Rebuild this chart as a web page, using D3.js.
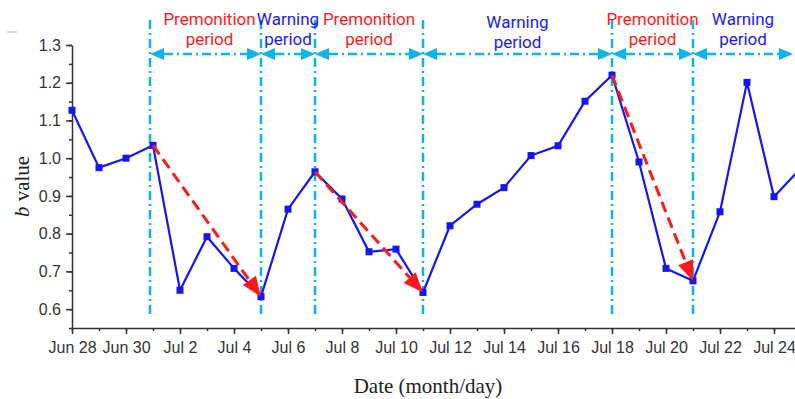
<!DOCTYPE html>
<html>
<head>
<meta charset="utf-8">
<script src="https://cdn.jsdelivr.net/npm/d3@7"></script>
<style>
  body { margin: 0; background: #fff; }
  svg { display: block; }
  .axis path, .axis line { stroke: #333; stroke-width: 1.5; }
  .axis text { font-family: "Liberation Sans", Arial, sans-serif; font-size: 16px; fill: #333; }
</style>
</head>
<body>
<div id="chart"></div>
<script>
// data
const dates = ["06-28","06-29","06-30","07-01","07-02","07-03","07-04","07-05","07-06","07-07",
  "07-08","07-09","07-10","07-11","07-12","07-13","07-14","07-15","07-16","07-17",
  "07-18","07-19","07-20","07-21","07-22","07-23","07-24","07-25"];
const bValues = [1.127, 0.975, 1.0, 1.034, 0.650, 0.792, 0.708, 0.633, 0.865, 0.964,
  0.892, 0.752, 0.759, 0.644, 0.821, 0.878, 0.922, 1.007, 1.033, 1.151,
  1.220, 0.990, 0.708, 0.675, 0.858, 1.201, 0.898, 0.974];
const yTicks = [0.6, 0.7, 0.8, 0.9, 1.0, 1.1, 1.2, 1.3];
const xTickDates = ["06-28","06-30","07-02","07-04","07-06","07-08","07-10","07-12",
  "07-14","07-16","07-18","07-20","07-22","07-24"];
const boundaries = ["07-01","07-05","07-07","07-11","07-18","07-21"];
const periodLabels = ["Premonition", "Warning", "Premonition", "Warning", "Premonition", "Warning"];
const trendArrows = [["07-01","07-05"], ["07-07","07-11"], ["07-18","07-21"]];

const width = 795, height = 399;
const parse = s => new Date(Date.UTC(2013, +s.slice(0, 2) - 1, +s.slice(3)));
const data = dates.map((d, i) => ({date: parse(d), b: bValues[i]}));

const xScale = d3.scaleUtc()
  .domain([parse("06-28"), parse("07-25")])
  .range([72, 801]);
const yScale = d3.scaleLinear()
  .domain([0.55, 1.3])
  .range([328, 45]);

const svg = d3.select("#chart").append("svg")
  .attr("width", width)
  .attr("height", height);

// stray mark top-left in the original
svg.append("line")
  .attr("x1", 7).attr("x2", 17).attr("y1", 32).attr("y2", 32)
  .attr("stroke", "#ccc").attr("stroke-width", 1.5);

// axes
const allDays = d3.utcDay.range(parse("06-28"), parse("07-26"));
svg.append("g")
  .attr("class", "axis")
  .attr("transform", `translate(0,${yScale(0.55)})`)
  .call(d3.axisBottom(xScale).tickValues(allDays).tickSize(3).tickFormat(""))
  .call(g => g.select(".domain").remove());
svg.append("g")
  .attr("class", "axis")
  .attr("transform", `translate(0,${yScale(0.55)})`)
  .call(d3.axisBottom(xScale)
    .tickValues(xTickDates.map(parse))
    .tickSize(6)
    .tickSizeOuter(0)
    .tickFormat(d3.utcFormat("%b %-d")))
  .selectAll("text").attr("dy", "1.0em");

const minorY = d3.range(0.55, 1.31, 0.05);
svg.append("g")
  .attr("class", "axis")
  .attr("transform", `translate(${xScale(parse("06-28"))},0)`)
  .call(d3.axisLeft(yScale).tickValues(minorY).tickSize(3).tickFormat(""))
  .call(g => g.select(".domain").remove());
svg.append("g")
  .attr("class", "axis")
  .attr("transform", `translate(${xScale(parse("06-28"))},0)`)
  .call(d3.axisLeft(yScale)
    .tickValues(yTicks)
    .tickSize(6)
    .tickSizeOuter(0)
    .tickFormat(d3.format(".1f")))
  .selectAll("text").attr("dx", "-2px");

// axis titles
svg.append("text")
  .attr("x", 428).attr("y", 393)
  .attr("text-anchor", "middle")
  .style("font-family", "'Liberation Serif', 'Times New Roman', serif")
  .style("font-size", "21px")
  .style("fill", "#222")
  .text("Date (month/day)");
const yTitle = svg.append("text")
  .attr("transform", `translate(29,${(yScale(0.55) + yScale(1.3)) / 2}) rotate(-90)`)
  .attr("text-anchor", "middle")
  .style("font-family", "'Liberation Serif', 'Times New Roman', serif")
  .style("font-size", "21px")
  .style("fill", "#222");
yTitle.append("tspan").style("font-style", "italic").text("b");
yTitle.append("tspan").text(" value");

// period boundaries
const cyan = "#0cb4ec";
const vTop = 20, vBottom = 318, arrowY = 54;
const bx = boundaries.map(d => xScale(parse(d)) - (d === "07-01" ? 3 : 0));
svg.selectAll(".boundary")
  .data(bx)
  .join("line")
    .attr("class", "boundary")
    .attr("x1", d => d)
    .attr("x2", d => d)
    .attr("y1", vTop).attr("y2", vBottom)
    .attr("stroke", cyan)
    .attr("stroke-width", 2.5)
    .attr("stroke-dasharray", "9,4,2,4");

const segs = bx.map((x, i) => [x, i < bx.length - 1 ? bx[i + 1] : width - 2]);
const headLen = 14, headHalf = 6;
segs.forEach(([x0, x1], i) => {
  svg.append("line")
    .attr("x1", x0 + headLen).attr("x2", x1 - headLen)
    .attr("y1", arrowY).attr("y2", arrowY)
    .attr("stroke", cyan)
    .attr("stroke-width", 2.5)
    .attr("stroke-dasharray", "9,4,2,4");
  svg.append("path")
    .attr("d", `M${x0},${arrowY}L${x0 + headLen},${arrowY - headHalf}L${x0 + headLen},${arrowY + headHalf}Z`)
    .attr("fill", cyan);
  svg.append("path")
    .attr("d", `M${x1},${arrowY}L${x1 - headLen},${arrowY - headHalf}L${x1 - headLen},${arrowY + headHalf}Z`)
    .attr("fill", cyan);

  const cx = (x0 + x1) / 2 + (i === 0 ? 4 : 0);
  const col = periodLabels[i] === "Premonition" ? "#ff1a1a" : "#1a1aff";
  const dy = periodLabels[i] === "Warning" && i === 3 ? 3 : 0;
  const lbl = svg.append("text")
    .attr("text-anchor", "middle")
    .style("font-family", "Roboto, sans-serif")
    .style("font-size", "17px")
    .style("fill", col);
  lbl.append("tspan").attr("x", cx).attr("y", 25 + dy).text(periodLabels[i]);
  lbl.append("tspan").attr("x", cx).attr("y", 45 + dy).text("period");
});

// b value line
const line = d3.line()
  .x(d => xScale(d.date))
  .y(d => yScale(d.b));
svg.append("path")
  .datum(data)
  .attr("d", line)
  .attr("fill", "none")
  .attr("stroke", "#1515f5")
  .attr("stroke-width", 2.2);
svg.selectAll(".pt")
  .data(data)
  .join("rect")
    .attr("class", "pt")
    .attr("x", d => xScale(d.date) - 3.5)
    .attr("y", d => yScale(d.b) - 3.5)
    .attr("width", 7).attr("height", 7)
    .attr("fill", "#1515f5");

// red trend arrows
const red = "#ff1a1a";
trendArrows.forEach(([a, b]) => {
  const p0 = data.find(d => +d.date === +parse(a));
  const p1 = data.find(d => +d.date === +parse(b));
  const x0 = xScale(p0.date), y0 = yScale(p0.b);
  const x1 = xScale(p1.date), y1 = yScale(p1.b);
  const ang = Math.atan2(y1 - y0, x1 - x0);
  const len = 20, half = 8;
  const bxh = x1 - len * Math.cos(ang), byh = y1 - len * Math.sin(ang);
  svg.append("line")
    .attr("x1", x0).attr("y1", y0)
    .attr("x2", bxh).attr("y2", byh)
    .attr("stroke", red)
    .attr("stroke-width", 3)
    .attr("stroke-dasharray", "11,6");
  const nx = -Math.sin(ang) * half, ny = Math.cos(ang) * half;
  svg.append("path")
    .attr("d", `M${x1},${y1}L${bxh + nx},${byh + ny}L${bxh - nx},${byh - ny}Z`)
    .attr("fill", red);
});
</script>
</body>
</html>
